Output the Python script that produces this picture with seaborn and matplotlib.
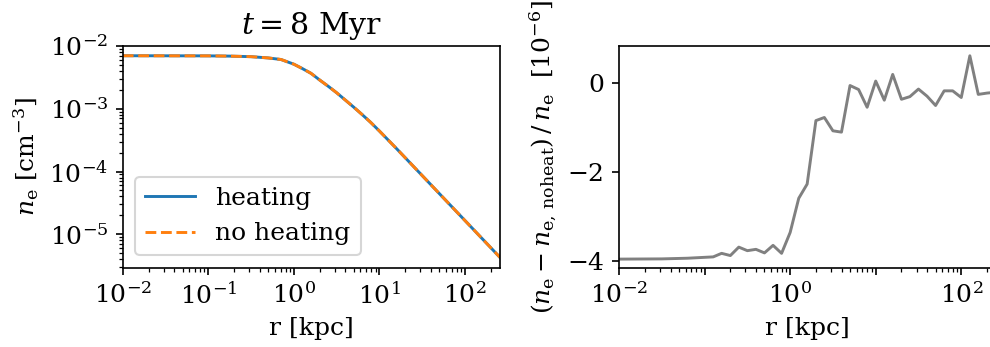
import matplotlib
matplotlib.use("Agg")
import matplotlib.pyplot as plt
import seaborn as sns
import numpy as np

# ---- data ----
log_r_profile = [-2.0, -1.0, -0.75, -0.5, -0.3, -0.15, 0.0, 0.1, 0.2, 0.3, 0.4, 0.5, 0.6,
                 0.7, 0.8, 0.9, 1.0, 1.1, 1.2, 1.5, 1.8, 2.1, 2.41]
log_ne_heating = [-2.155, -2.157, -2.161, -2.17, -2.19, -2.215, -2.29, -2.36, -2.435, -2.54,
                  -2.64, -2.745, -2.86, -2.975, -3.095, -3.22, -3.355, -3.495, -3.635, -4.065,
                  -4.495, -4.925, -5.37]
log_ne_noheating = [-2.155, -2.157, -2.161, -2.17, -2.19, -2.215, -2.29, -2.36, -2.435, -2.54,
                    -2.64, -2.745, -2.86, -2.975, -3.095, -3.22, -3.355, -3.495, -3.635, -4.065,
                    -4.495, -4.925, -5.37]

r_diff = [0.01, 0.0316, 0.063, 0.126, 0.158, 0.2, 0.251, 0.316, 0.398, 0.501, 0.631, 0.794,
          1.0, 1.26, 1.58, 2.0, 2.51, 3.16, 3.98, 5.01, 6.31, 7.94, 10.0, 12.6, 15.8, 20.0,
          25.1, 31.6, 39.8, 50.1, 63.1, 79.4, 100.0, 126.0, 158.0, 200.0, 257.0]
rel_diff = [-3.96, -3.955, -3.94, -3.91, -3.83, -3.88, -3.69, -3.77, -3.74, -3.82, -3.65, -3.83,
            -3.36, -2.59, -2.27, -0.84, -0.77, -1.07, -1.10, -0.05, -0.14, -0.54, 0.05, -0.38,
            0.20, -0.36, -0.30, -0.13, -0.29, -0.50, -0.17, -0.17, -0.32, 0.62, -0.25, -0.22, -0.20]

title = r"$t = 8$ Myr"
xlabel = "r [kpc]"
ylabel_left = r"$n_{\rm e}$ [cm$^{-3}$]"
ylabel_right = r"$(n_{\rm e} - n_{\rm e,\,noheat})\,/\,n_{\rm e}$  [$10^{-6}$]"

r_profile = 10.0 ** np.array(log_r_profile)
ne_heating = 10.0 ** np.array(log_ne_heating)
ne_noheating = 10.0 ** np.array(log_ne_noheating)

# ---- style ----
plt.rcParams.update({
    "font.family": ["DejaVu Serif"],
    "mathtext.fontset": "dejavuserif",
    "font.size": 12,
})

fig = plt.figure(figsize=(6.6, 347 / 150), dpi=150)
axL = fig.add_axes([0.1240, 0.2277, 0.3811, 0.6397])
axR = fig.add_axes([0.6253, 0.2277, 0.3811, 0.6397])

sns.lineplot(x=r_profile, y=ne_heating, ax=axL, color="#1f77b4", lw=1.4, label="heating")
sns.lineplot(x=r_profile, y=ne_noheating, ax=axL, color="#ff7f0e", lw=1.4, linestyle="--", label="no heating")
axL.set_xscale("log")
axL.set_yscale("log")
axL.set_xlim(0.01, 257)
axL.set_ylim(2.9e-6, 1e-2)
axL.set_xlabel(xlabel)
axL.set_ylabel(ylabel_left)
axL.set_title(title)
axL.legend(loc="lower left")

sns.lineplot(x=r_diff, y=rel_diff, ax=axR, color="gray", lw=1.4)
axR.set_xscale("log")
axR.set_xlim(0.01, 257)
axR.set_ylim(-4.16, 0.84)
axR.set_yticks([-4, -2, 0])
axR.set_xticks([1e-2, 1e-1, 1e0, 1e1, 1e2])
axR.set_xticklabels([r"$10^{-2}$", "", r"$10^{0}$", "", r"$10^{2}$"])
axR.set_xlabel(xlabel)
axR.set_ylabel(ylabel_right)

fig.savefig("out.png", dpi=150)
